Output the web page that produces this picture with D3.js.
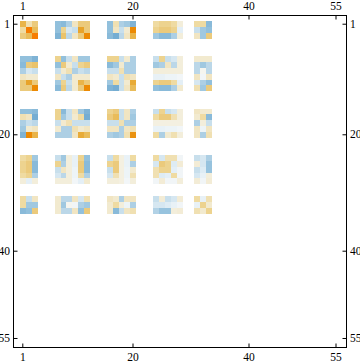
<!DOCTYPE html>
<html>
<head>
<meta charset="utf-8" />
<title></title>
<style>
html, body {
    padding: 0px;
    margin: 0px;
    background: #fff;
}
svg {
    display: block;
}
.tick line {
    stroke: #000;
}
.tick text {
    font-family: "Liberation Serif", serif;
    font-size: 11.5px;
    fill: #000;
}
</style>
</head>
<body>
<div id="plot"></div>
<script src="https://d3js.org/d3.v7.min.js"></script>
<script>
// matrix positions that hold a value, everything else is blank
var indices = [1,2,3, 7,8,9,10,11,12, 16,17,18,19,20, 24,25,26,27,28, 31,32,33];
var tickLabels = [1, 20, 40, 55];

// values, one row per entry in indices
var row1  = [.55,.25,.4, -.4,-.45,-.3,.2,.4,.4, -.4,.25,-.3,-.35,-.5, .3,.35,.35,.3,.1, .3,.3,-.45];
var row2  = [.3,.9,.5, -.4,.35,-.15,-.2,.65,.4, -.4,.2,-.2,.15,.8, .35,.4,.4,.35,-.1, -.2,-.35,-.4];
var row3  = [.4,.5,.9, -.5,.45,-.25,.2,.4,.8, -.45,-.55,-.25,.2,.55, -.35,-.45,-.45,-.3,.1, .2,-.35,.4];
var row7  = [-.4,-.4,-.5, .35,-.4,-.2,.2,-.35,-.35, .35,.35,-.2,.15,-.3, -.2,.35,-.2,-.15,.1, .15,.15,.15];
var row8  = [-.45,.4,.45, -.4,.4,.15,-.2,.35,.4, -.45,-.35,.15,-.3,-.3, -.35,-.3,.2,-.25,.1, -.25,-.35,-.25];
var row9  = [-.3,-.15,-.2, -.2,.15,.25,-.3,-.2,-.25, -.2,-.2,.25,-.3,-.3, .1,.1,.1,.1,.1, -.25,.03,-.25];
var row10 = [.2,.15,.15, .2,-.2,-.3,.15,.15,.15, .2,.15,-.2,.25,.2, -.08,-.08,-.05,-.05,-.02, .2,-.03,.2];
var row11 = [.4,.65,.4, -.35,.35,-.2,.15,.55,.4, -.35,.3,-.2,.15,.6, .35,.4,.4,.3,-.1, -.15,-.3,-.4];
var row12 = [.4,.4,.8, -.45,.4,-.25,.15,.4,.8, -.5,-.55,-.2,.2,.5, -.4,-.45,-.45,-.3,.15, .25,-.35,.4];
var row16 = [-.4,-.4,-.45, .35,-.45,-.2,.2,-.35,-.5, .35,.4,-.2,.2,-.3, -.2,.35,-.2,-.15,.1, .2,.15,.15];
var row17 = [.25,.2,-.55, .35,-.35,-.2,.15,.3,-.55, .4,.5,-.2,.2,-.35, .3,.4,.4,.25,.1, .15,.3,-.45];
var row18 = [-.3,-.2,-.25, -.2,.15,.25,-.2,-.2,-.2, -.2,-.2,.25,-.3,-.3, .08,.08,.08,.08,.08, -.3,.1,-.2];
var row19 = [-.35,.15,.2, .15,-.3,-.3,.25,.15,.2, .2,.2,-.3,.2,.25, -.07,-.07,-.05,-.05,-.02, .2,-.05,.2];
var row20 = [-.5,.8,.55, -.3,-.3,-.3,.2,.6,.5, -.3,-.35,-.3,.25,.75, .3,-.3,.15,.25,.1, .2,-.3,.25];
var row24 = [.3,.35,-.35, -.2,-.35,.1,-.08,.35,-.4, -.2,.3,.08,-.07,.3, .3,-.15,.25,.25,-.03, -.2,-.15,-.3];
var row25 = [.35,.4,-.45, .35,-.3,.1,-.08,.4,-.45, .35,.4,.08,-.07,-.3, -.15,.4,.35,-.12,.12, .12,-.15,-.38];
var row26 = [.35,.4,-.45, -.2,.2,.1,-.05,.4,-.45, -.2,.4,.08,-.05,.15, .25,.35,.35,-.1,-.03, -.2,-.12,-.38];
var row27 = [.3,.35,-.3, -.15,-.25,.1,-.05,.3,-.3, -.15,.25,.08,-.05,.25, .25,-.12,-.1,.3,-.03, -.15,-.08,.1];
var row28 = [.1,-.1,.1, .1,.1,.1,-.02,-.1,.15, .1,.1,.08,-.02,.1, -.03,.12,-.03,-.03,.1, .12,-.03,.12];
var row31 = [.3,-.2,.2, .15,-.25,-.25,.2,-.15,.25, .2,.15,-.3,.2,.2, -.2,.12,-.2,-.15,.12, .3,-.08,.25];
var row32 = [.3,-.35,-.35, .15,-.35,.03,-.03,-.3,-.35, .15,.3,.1,-.05,-.3, -.15,-.15,-.12,-.08,-.03, -.08,.35,.15];
var row33 = [-.45,-.4,.4, .15,-.25,-.25,.2,-.4,.4, .15,-.45,-.2,.2,.25, -.28,-.38,-.38,.1,.12, .25,.15,.35];

var rows = [row1,row2,row3,row7,row8,row9,row10,row11,row12,row16,row17,row18,row19,row20,row24,row25,row26,row27,row28,row31,row32,row33];

var width = 360, height = 363;
var frame = {left: 13.5, right: 346.5, top: 15.5, bottom: 347.5};

var domain = d3.range(1, 56);
var x = d3.scaleBand().domain(domain).range([19.9, 338.9]);
var y = d3.scaleBand().domain(domain).range([21.3, 341.4]);

var color = d3.scaleLinear()
    .domain([-.7, -.6, -.5, -.4, -.3, -.2, -.1, 0, .1, .2, .3, .4, .5, .6, .7, .8, 1])
    .range(["#5a9ec9", "#6ba6cf", "#7fb3d5", "#92c0dc", "#adcfe4", "#c8dfec", "#e4eff6", "#f6f8f8",
            "#f3eedb", "#f1e5c2", "#efdba2", "#ebca7c", "#e9bc5a", "#e8ab38", "#e79a1c", "#ec8a04", "#ff7000"]);

var svg = d3.select("#plot")
    .append("svg")
    .attr("width", width)
    .attr("height", height);

rows.forEach(function(row, i) {
    svg.append("g").selectAll("rect")
        .data(row)
        .enter()
        .append("rect")
        .attr("x", function(d, j) { return x(indices[j]); })
        .attr("y", y(indices[i]))
        .attr("width", x.bandwidth() + .2)
        .attr("height", y.bandwidth() + .2)
        .attr("shape-rendering", "crispEdges")
        .attr("fill", function(d) { return color(d); });
});

svg.append("rect")
    .attr("x", frame.left)
    .attr("y", frame.top)
    .attr("width", frame.right - frame.left)
    .attr("height", frame.bottom - frame.top)
    .attr("fill", "none")
    .attr("stroke", "#000")
    .attr("stroke-width", 1);

// ticks point inward, labels sit outside the frame
function addAxis(axis, tx, ty, pad) {
    var g = svg.append("g")
        .attr("transform", "translate(" + tx + "," + ty + ")")
        .call(axis.tickValues(tickLabels).tickSize(-4).tickPadding(pad));
    g.select(".domain").remove();
}

addAxis(d3.axisTop(x), 0, frame.top, 5.5);
addAxis(d3.axisBottom(x), 0, frame.bottom, 5.2);
addAxis(d3.axisLeft(y), frame.left, 0, 3.5);
addAxis(d3.axisRight(y), frame.right, 0, 3.5);
</script>
</body>
</html>
